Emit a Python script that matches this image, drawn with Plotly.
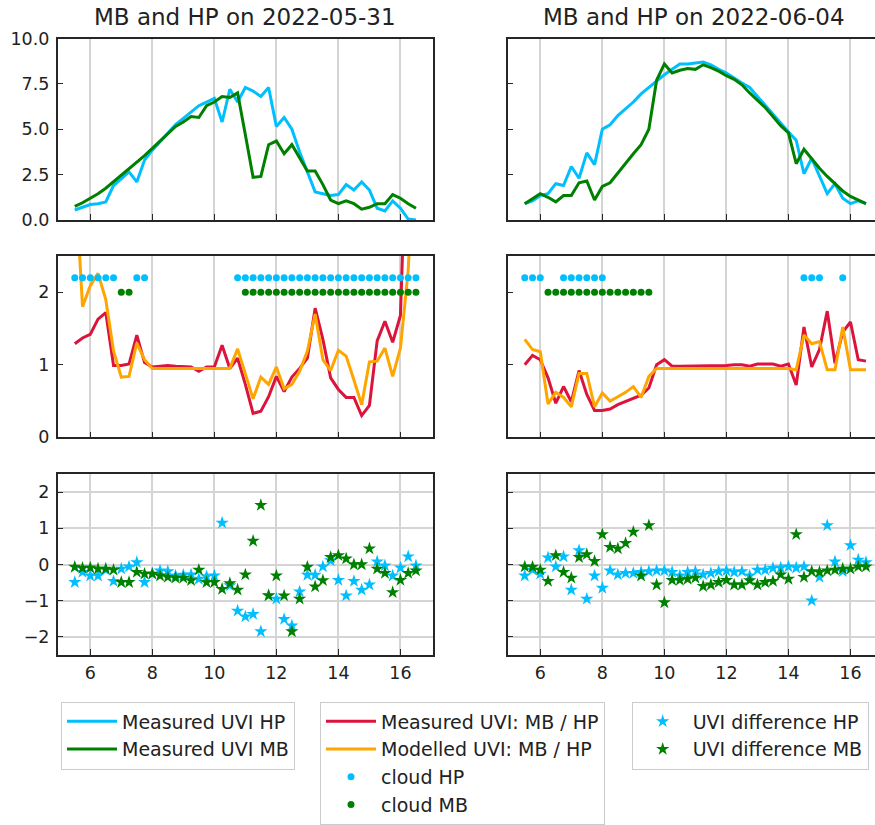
import plotly.graph_objects as go

# ---------------- data ----------------
hours = [5.5 + 0.25 * i for i in range(45)]

# 2022-05-31
uvi_hp_0531 = [0.55, 0.7, 0.85, 0.9, 1.0, 1.9, 2.3, 2.65, 2.1, 3.3, 3.85, 4.3, 4.8, 5.25, 5.6,
               5.95, 6.3, 6.5, 6.7, 5.4, 7.2, 6.5, 7.3, 7.1, 6.8, 7.3, 5.15, 5.65, 5.0, 3.75,
               2.6, 1.55, 1.45, 1.35, 1.4, 1.95, 1.65, 2.1, 1.65, 0.65, 0.5, 1.05, 0.65, 0.05, 0.0]
uvi_mb_0531 = [0.75, 0.95, 1.2, 1.45, 1.75, 2.1, 2.5, 2.8, 3.15, 3.55, 3.95, 4.35, 4.8, 5.15, 5.4,
               5.7, 5.65, 6.3, 6.5, 6.8, 6.75, 7.0, 4.7, 2.35, 2.4, 4.15, 4.35, 3.65, 4.15, 3.45,
               2.7, 2.7, 1.95, 1.1, 0.9, 1.05, 0.9, 0.6, 0.7, 0.9, 0.9, 1.4, 1.2, 0.9, 0.65]
ratio_meas_0531 = [1.29, 1.37, 1.42, 1.63, 1.72, 0.99, 0.99, 1.01, 1.41, 1.03, 0.97, 0.98, 0.99, 0.98, 0.97,
                   0.97, 0.91, 0.97, 0.97, 1.27, 0.95, 1.09, 0.73, 0.33, 0.36, 0.56, 0.84, 0.63, 0.83, 0.95,
                   1.09, 1.78, 1.35, 0.82, 0.66, 0.55, 0.55, 0.30, 0.44, 1.33, 1.60, 1.31, 1.68, 6.5, 8.0]
ratio_model_0531 = [3.7, 1.80, 2.09, 2.26, 1.90, 1.19, 0.83, 0.84, 1.30, 1.07, 0.95, 0.95, 0.95, 0.95, 0.95,
                    0.95, 0.95, 0.95, 0.95, 0.95, 0.95, 1.22, 0.86, 0.53, 0.83, 0.73, 0.97, 0.67, 0.73, 0.91,
                    1.19, 1.70, 1.07, 0.92, 1.20, 1.12, 0.79, 0.45, 1.04, 1.05, 1.23, 0.84, 1.23, 2.3, 4.5]
cloud_hp_0531 = [1, 1, 1, 1, 1, 1, 0, 0, 1, 1, 0, 0, 0, 0, 0, 0, 0, 0, 0, 0, 0, 1, 1, 1, 1,
                 1, 1, 1, 1, 1, 1, 1, 1, 1, 1, 1, 1, 1, 1, 1, 1, 1, 1, 1, 1]
cloud_mb_0531 = [0, 0, 0, 0, 0, 0, 1, 1, 0, 0, 0, 0, 0, 0, 0, 0, 0, 0, 0, 0, 0, 0, 1, 1, 1,
                 1, 1, 1, 1, 1, 1, 1, 1, 1, 1, 1, 1, 1, 1, 1, 1, 1, 1, 1, 1]
diff_hp_0531 = [-0.49, -0.21, -0.31, -0.31, -0.15, -0.46, -0.12, -0.06, 0.06, -0.49, -0.26, -0.17, -0.19, -0.31, -0.29,
                -0.28, -0.40, -0.33, -0.31, 1.15, -0.58, -1.28, -1.44, -1.37, -1.85, -0.85, -0.95, -1.51, -1.69, -0.75,
                -0.29, -0.29, -0.06, 0.11, -0.43, -0.86, -0.46, -0.70, -0.56, 0.08, -0.03, -0.31, -0.09, 0.22, -0.03]
diff_mb_0531 = [-0.07, -0.10, -0.09, -0.12, -0.12, -0.15, -0.49, -0.49, -0.21, -0.26, -0.26, -0.31, -0.35, -0.37, -0.37,
                -0.44, -0.15, -0.49, -0.49, -0.68, -0.52, -0.70, -0.28, 0.65, 1.64, -0.86, -0.31, -0.86, -1.85, -0.95,
                -0.07, -0.61, -0.44, 0.20, 0.25, 0.16, 0.0, 0.0, 0.44, -0.12, -0.24, -0.77, -0.43, -0.24, -0.17]

# 2022-06-04
uvi_hp_0604 = [0.9, 1.05, 1.35, 1.45, 2.0, 1.9, 2.95, 2.3, 3.7, 3.05, 5.0, 5.25, 5.75, 6.1, 6.5,
               6.95, 7.3, 7.7, 8.0, 8.3, 8.6, 8.6, 8.65, 8.7, 8.55, 8.3, 8.1, 7.8, 7.55, 7.3,
               6.8, 6.35, 5.85, 5.35, 4.85, 4.4, 2.55, 3.4, 2.4, 1.45, 2.0, 1.2, 0.9, 1.05, 0.9]
uvi_mb_0604 = [0.9, 1.2, 1.45, 1.25, 1.0, 1.35, 1.35, 2.05, 2.15, 1.1, 1.85, 2.05, 2.6, 3.15, 3.65,
               4.15, 5.0, 7.7, 8.6, 8.1, 8.25, 8.35, 8.3, 8.55, 8.4, 8.2, 7.95, 7.75, 7.45, 7.0,
               6.6, 6.2, 5.7, 5.2, 4.8, 3.1, 3.9, 3.35, 2.85, 2.4, 2.0, 1.6, 1.3, 1.1, 0.9]
ratio_meas_0604 = [1.0, 1.13, 1.07, 0.82, 0.47, 0.70, 0.49, 0.92, 0.59, 0.37, 0.37, 0.39, 0.45, 0.49, 0.54,
                   0.58, 0.68, 1.0, 1.07, 0.98, 0.98, 0.98, 0.98, 0.99, 0.99, 0.99, 0.99, 1.0, 1.0, 0.98,
                   1.01, 1.01, 1.01, 0.98, 1.01, 0.72, 1.52, 0.97, 1.21, 1.74, 1.02, 1.45, 1.59, 1.07, 1.05]
ratio_model_0604 = [1.35, 1.21, 1.18, 0.46, 0.62, 0.55, 0.42, 0.88, 0.88, 0.42, 0.61, 0.50, 0.56, 0.62, 0.70,
                    0.55, 0.84, 0.95, 0.95, 0.95, 0.95, 0.95, 0.95, 0.95, 0.95, 0.95, 0.95, 0.95, 0.95, 0.95,
                    0.95, 0.95, 0.95, 0.95, 0.95, 0.93, 1.41, 1.29, 1.32, 0.93, 0.93, 1.52, 0.93, 0.93, 0.93]
cloud_hp_0604 = [1, 1, 1, 0, 0, 1, 1, 1, 1, 1, 1, 0, 0, 0, 0, 0, 0, 0, 0, 0, 0, 0, 0, 0, 0,
                 0, 0, 0, 0, 0, 0, 0, 0, 0, 0, 0, 1, 1, 1, 0, 0, 1, 0, 0, 0]
cloud_mb_0604 = [0, 0, 0, 1, 1, 1, 1, 1, 1, 1, 1, 1, 1, 1, 1, 1, 1, 0, 0, 0, 0, 0, 0, 0, 0,
                 0, 0, 0, 0, 0, 0, 0, 0, 0, 0, 0, 0, 0, 0, 0, 0, 0, 0, 0, 0]
diff_hp_0604 = [-0.31, -0.15, -0.26, 0.19, -0.06, 0.22, -0.70, 0.39, -0.95, -0.31, -0.65, -0.17, -0.28, -0.24, -0.24,
                -0.21, -0.19, -0.17, -0.17, -0.21, -0.31, -0.21, -0.19, -0.28, -0.24, -0.19, -0.17, -0.21, -0.19, -0.31,
                -0.15, -0.15, -0.10, -0.09, -0.06, -0.09, -0.06, -1.0, -0.35, 1.08, 0.08, -0.19, 0.53, 0.13, 0.06]
diff_mb_0604 = [-0.06, -0.07, -0.15, -0.46, 0.25, -0.21, -0.37, 0.20, 0.28, 0.09, 0.83, 0.48, 0.44, 0.59, 0.90,
                -0.31, 1.08, -0.56, -1.05, -0.43, -0.43, -0.40, -0.37, -0.60, -0.56, -0.49, -0.43, -0.56, -0.56, -0.44,
                -0.56, -0.49, -0.46, -0.28, -0.40, 0.83, -0.35, -0.19, -0.21, -0.17, -0.15, -0.12, -0.12, -0.06, -0.06]

titles = ["MB and HP on 2022-05-31", "MB and HP on 2022-06-04"]
x_ticks = [6, 8, 10, 12, 14, 16]

# ---------------- style ----------------
C_HP = "#00BFFF"
C_MB = "#008000"
C_RED = "#DC143C"
C_ORA = "#FFA500"
FONT = "DejaVu Sans"
TXT = "#222222"
CLOUD_LEVEL_HP = 2.2
CLOUD_LEVEL_MB = 2.0

W, H = 875, 825
def px_x(a, b):
    return [a / W, b / W]
def px_y(top, bottom):
    return [1 - bottom / H, 1 - top / H]

XDOM = [px_x(57.7, 433.0), px_x(507.7, 875.0)]
YDOM = [px_y(38.5, 220.0), px_y(256.0, 437.3), px_y(474.0, 655.0)]
XRANGE = [[4.95, 17.05], [4.95, 16.79]]

fig = go.Figure()

days = [
    dict(hp=uvi_hp_0531, mb=uvi_mb_0531, rm=ratio_meas_0531, ro=ratio_model_0531,
         chp=cloud_hp_0531, cmb=cloud_mb_0531, dhp=diff_hp_0531, dmb=diff_mb_0531),
    dict(hp=uvi_hp_0604, mb=uvi_mb_0604, rm=ratio_meas_0604, ro=ratio_model_0604,
         chp=cloud_hp_0604, cmb=cloud_mb_0604, dhp=diff_hp_0604, dmb=diff_mb_0604),
]

for c, d in enumerate(days):
    show = (c == 0)
    ax = [f"{k + c}" if (k + c) > 1 else "" for k in (1, 3, 5)]
    xa = ["x" + a for a in ax]
    ya = ["y" + a for a in ax]
    # row 1
    fig.add_trace(go.Scatter(x=hours, y=d["hp"], mode="lines", line=dict(color=C_HP, width=3),
                             name="Measured UVI HP", legend="legend", legendgroup="a1",
                             showlegend=show, xaxis=xa[0], yaxis=ya[0]))
    fig.add_trace(go.Scatter(x=hours, y=d["mb"], mode="lines", line=dict(color=C_MB, width=3),
                             name="Measured UVI MB", legend="legend", legendgroup="a2",
                             showlegend=show, xaxis=xa[0], yaxis=ya[0]))
    # row 2
    fig.add_trace(go.Scatter(x=hours, y=d["rm"], mode="lines", line=dict(color=C_RED, width=3),
                             name="Measured UVI: MB / HP", legend="legend2", legendgroup="b1",
                             showlegend=show, xaxis=xa[1], yaxis=ya[1]))
    fig.add_trace(go.Scatter(x=hours, y=d["ro"], mode="lines", line=dict(color=C_ORA, width=3),
                             name="Modelled UVI: MB / HP", legend="legend2", legendgroup="b2",
                             showlegend=show, xaxis=xa[1], yaxis=ya[1]))
    cx_hp = [h for h, f in zip(hours, d["chp"]) if f]
    cx_mb = [h for h, f in zip(hours, d["cmb"]) if f]
    fig.add_trace(go.Scatter(x=cx_hp, y=[CLOUD_LEVEL_HP] * len(cx_hp), mode="markers",
                             marker=dict(color=C_HP, size=7), name="cloud HP",
                             legend="legend2", legendgroup="b3",
                             showlegend=show, xaxis=xa[1], yaxis=ya[1]))
    fig.add_trace(go.Scatter(x=cx_mb, y=[CLOUD_LEVEL_MB] * len(cx_mb), mode="markers",
                             marker=dict(color=C_MB, size=7), name="cloud MB",
                             legend="legend2", legendgroup="b4",
                             showlegend=show, xaxis=xa[1], yaxis=ya[1]))
    # row 3
    fig.add_trace(go.Scatter(x=hours, y=d["dhp"], mode="markers",
                             marker=dict(color=C_HP, size=10, symbol="star"),
                             name="UVI difference HP", legend="legend3", legendgroup="c1",
                             showlegend=show, xaxis=xa[2], yaxis=ya[2]))
    fig.add_trace(go.Scatter(x=hours, y=d["dmb"], mode="markers",
                             marker=dict(color=C_MB, size=10, symbol="star"),
                             name="UVI difference MB", legend="legend3", legendgroup="c2",
                             showlegend=show, xaxis=xa[2], yaxis=ya[2]))

axis_common = dict(showline=True, linecolor="#262626", linewidth=1.5, ticks="inside",
                   ticklen=6, tickwidth=1.2, tickcolor="#262626", zeroline=False,
                   tickfont=dict(family=FONT, size=17.5, color=TXT), gridcolor="#d4d4d4",
                   gridwidth=1.5, automargin=False)

layout = {}
for r in range(3):
    for c in range(2):
        n = r * 2 + c + 1
        key = "" if n == 1 else str(n)
        layout["xaxis" + key] = dict(axis_common, domain=XDOM[c], range=XRANGE[c],
                                     anchor="y" + key, tickvals=x_ticks, showgrid=True,
                                     showticklabels=(r == 2), mirror=True,
                                     ticklabelstandoff=1)
        yd = dict(axis_common, domain=YDOM[r], anchor="x" + key, showticklabels=(c == 0),
                  mirror=(c == 0), ticklabelstandoff=3)
        if r == 0:
            yd.update(range=[0, 10], tickvals=[0, 2.5, 5, 7.5, 10],
                      ticktext=["0.0", "2.5", "5.0", "7.5", "10.0"], showgrid=False)
        elif r == 1:
            yd.update(range=[0, 2.5], tickvals=[0, 1, 2], showgrid=False)
        else:
            yd.update(range=[-2.5, 2.5], tickvals=[-2, -1, 0, 1, 2], showgrid=True)
        layout["yaxis" + key] = yd

leg_common = dict(font=dict(family=FONT, size=19, color=TXT), bordercolor="#cccccc",
                  borderwidth=1, bgcolor="white", xanchor="left", yanchor="top",
                  traceorder="grouped", tracegroupgap=0, itemwidth=50)
layout["legend"] = dict(leg_common, x=61 / W, y=1 - 701.5 / H)
layout["legend2"] = dict(leg_common, x=320 / W, y=1 - 701.5 / H)
layout["legend3"] = dict(leg_common, x=631.7 / W, y=1 - 701.5 / H)

fig.update_layout(**layout)
fig.update_layout(template="none", width=W, height=H, margin=dict(l=0, r=0, t=0, b=0),
                  plot_bgcolor="white", paper_bgcolor="white",
                  font=dict(family=FONT, color=TXT))

for c, t in enumerate(titles):
    cx = (57.7 + 433.0) / 2 if c == 0 else (507.7 + 881.0) / 2
    fig.add_annotation(text=t, x=cx / W, y=1 - 17 / H, xref="paper", yref="paper",
                       xanchor="center", yanchor="middle", showarrow=False,
                       font=dict(family=FONT, size=23, color=TXT))

fig.write_html("out.html")
